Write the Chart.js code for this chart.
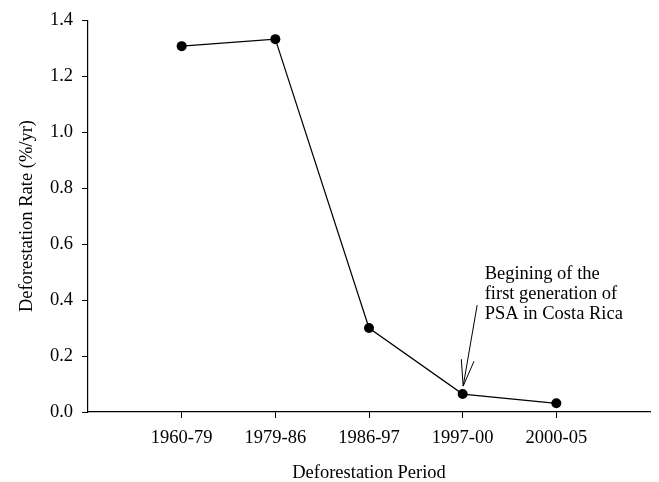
<!DOCTYPE html>
<html>
<head>
<meta charset="utf-8">
<script src="https://cdn.jsdelivr.net/npm/chart.js@4.4.0/dist/chart.umd.min.js"></script>
<style>
  body { margin: 0; background: #fff; }
  #wrap { width: 659px; height: 482px; }
</style>
</head>
<body>
<div id="wrap"><canvas id="rate"></canvas></div>
<script>
const periods = ['1960-79', '1979-86', '1986-97', '1997-00', '2000-05']
const rates = [1.307, 1.332, 0.300, 0.064, 0.031]
const noteLines = ['Begining of the', 'first generation of', 'PSA in Costa Rica']
const noteIndex = 3

const serif = 'Liberation Serif, Times New Roman, serif'

// draws the text note and the open arrow pointing at the 1997-00 point
const notePlugin = {
    id: 'note',
    afterDatasetsDraw(chart) {
        const ctx = chart.ctx
        const px = chart.scales.x.getPixelForValue(noteIndex + 1)
        const py = chart.scales.y.getPixelForValue(rates[noteIndex])
        const tipX = px + 0.5, tipY = py - 8
        const tailX = tipX + 14, tailY = tipY - 81
        const ang = Math.atan2(tailY - tipY, tailX - tipX)
        const head = 27, spread = 0.24
        ctx.save()
        ctx.strokeStyle = '#000'
        ctx.lineWidth = 1
        ctx.beginPath()
        ctx.moveTo(tailX, tailY)
        ctx.lineTo(tipX, tipY)
        ctx.moveTo(tipX + head * Math.cos(ang - spread), tipY + head * Math.sin(ang - spread))
        ctx.lineTo(tipX, tipY)
        ctx.lineTo(tipX + head * Math.cos(ang + spread), tipY + head * Math.sin(ang + spread))
        ctx.stroke()
        ctx.fillStyle = '#000'
        ctx.font = '18.5px ' + serif
        ctx.textBaseline = 'alphabetic'
        ctx.textAlign = 'left'
        noteLines.forEach((t, i) => {
            ctx.fillText(t, px + 22, py - 115 + i * 20)
        })
        ctx.restore()
    }
}

const ctx = document.getElementById('rate').getContext('2d')
const myChart = new Chart(ctx, {
    type: 'line',
    data: {
        datasets: [{
            data: periods.map((p, i) => ({ x: i + 1, y: rates[i] })),
            borderColor: '#000',
            borderWidth: 1.2,
            pointRadius: 5,
            pointBackgroundColor: '#000',
            pointBorderColor: '#000',
            pointBorderWidth: 0,
            tension: 0
        }]
    },
    options: {
        responsive: true,
        maintainAspectRatio: false,
        animation: false,
        layout: { padding: { top: 17, right: 9, left: 0, bottom: 0 } },
        plugins: { legend: { display: false }, tooltip: { enabled: false } },
        scales: {
            x: {
                type: 'linear',
                min: 0,
                max: 6,
                afterBuildTicks: scale => {
                    scale.ticks = periods.map((p, i) => ({ value: i + 1 }))
                },
                afterFit: scale => { scale.height = 70 },
                grid: { drawOnChartArea: false, color: '#000', tickLength: 6, lineWidth: 1 },
                border: { color: '#000', width: 1.2 },
                ticks: {
                    color: '#000',
                    padding: 9,
                    maxRotation: 0,
                    font: { family: serif, size: 18.5 },
                    callback: v => periods[v - 1]
                },
                title: {
                    display: true,
                    text: 'Deforestation Period',
                    color: '#000',
                    font: { family: serif, size: 18.5, lineHeight: 1 },
                    padding: { top: 0, bottom: 0 }
                }
            },
            y: {
                min: 0,
                max: 1.4,
                afterFit: scale => { scale.width = 88 },
                grid: { drawOnChartArea: false, color: '#000', tickLength: 6, lineWidth: 1 },
                border: { color: '#000', width: 1.2 },
                ticks: {
                    stepSize: 0.2,
                    color: '#000',
                    padding: 9,
                    font: { family: serif, size: 18.5 },
                    callback: v => v.toFixed(1)
                },
                title: {
                    display: true,
                    text: 'Deforestation Rate (%/yr)',
                    color: '#000',
                    font: { family: serif, size: 18.5 },
                    padding: { top: 16, bottom: 0 }
                }
            }
        }
    },
    plugins: [notePlugin]
})
</script>
</body>
</html>
